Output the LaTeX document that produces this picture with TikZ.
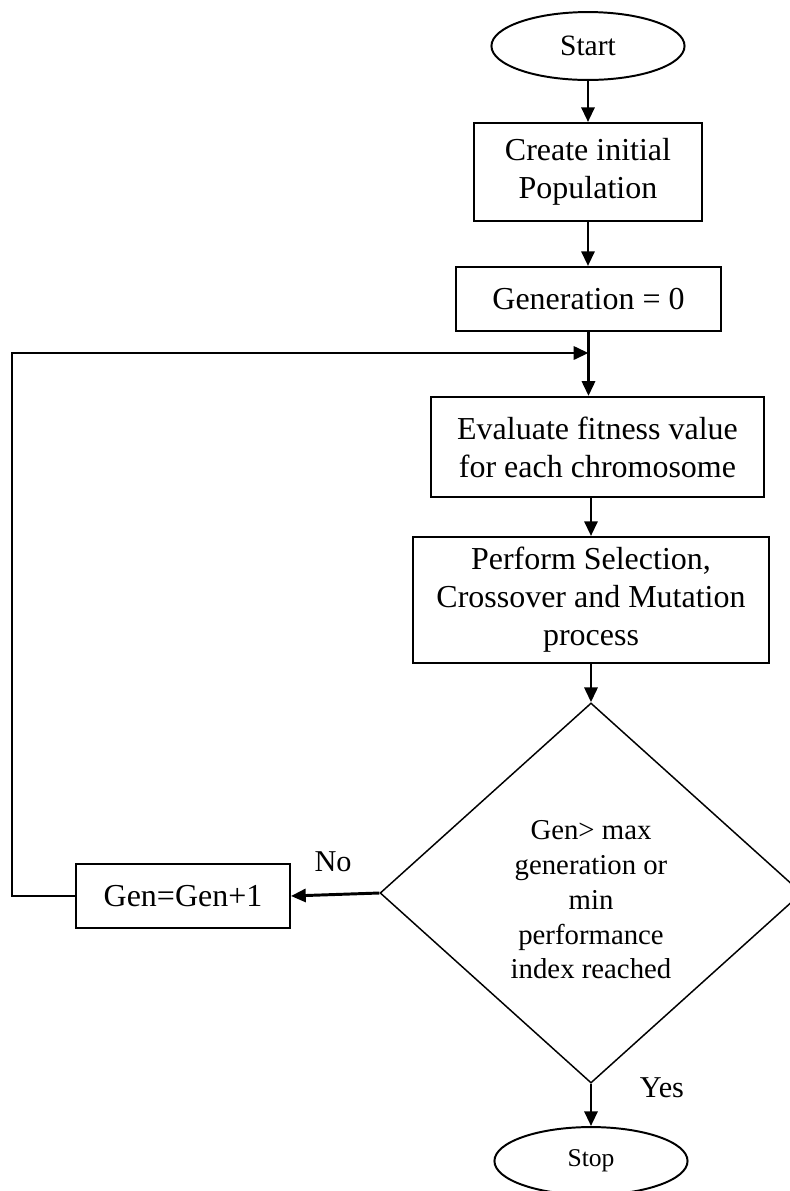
\documentclass[tikz,border=0pt]{standalone}
\usepackage{fontspec}
\setmainfont{Liberation Serif}
\usetikzlibrary{arrows.meta,positioning,shapes.geometric}

\begin{document}
\begin{tikzpicture}[x=0.4065pt, y=-0.4065pt,
        block/.style={rectangle, draw, line width=0.8pt, align=center, inner sep=0pt, font=\fontsize{13}{15.4}\selectfont},
        term/.style={ellipse, draw, line width=0.8pt, inner sep=0pt, minimum width=78.5pt, minimum height=27.6pt},
        decision/.style={diamond, draw, line width=0.6pt, inner sep=0pt, minimum width=171.5pt, minimum height=154.5pt, font=\fontsize{11.7}{14.2}\selectfont},
        arrow/.style={-{Triangle[length=6pt, width=5.3pt]}, line width=1.2pt},
        tag/.style={font=\fontsize{12.3}{14}\selectfont}
    ]
        \useasboundingbox (0,0) rectangle (789,1191);

        % Blocks
        \node[term, font=\fontsize{12}{14}\selectfont] (start) at (588,46) {Start};
        \node[block, minimum width=92.3pt, minimum height=39.8pt] (create) at (588,172) {Create initial\\Population};
        \node[block, minimum width=107.7pt, minimum height=26pt] (gen) at (588.5,299) {Generation = 0};
        \node[block, minimum width=135.4pt, minimum height=40.7pt] (eval) at (597.5,447) {Evaluate fitness value\\for each chromosome};
        \node[block, minimum width=144.7pt, minimum height=51.2pt] (perform) at (591,600) {Perform Selection,\\Crossover and Mutation\\process};
        \node[decision] (check) at (591,893) {\raisebox{-3.7pt}[\height][\depth]{\begin{tabular}{@{}c@{}}Gen> max\\generation or\\min\\performance\\index reached\end{tabular}}};
        \node[block, minimum width=87pt, minimum height=26pt] (incr) at (183,896) {Gen=Gen+1};
        \node[term, font=\fontsize{10.4}{12}\selectfont] (stop) at (591,1161) {Stop};

        % Labels
        \node[tag] (no) at (333,862) {No};
        \node[tag] (yes) at (662,1088) {Yes};

        % Arrows
        \draw[arrow] (start) -- (create);
        \draw[arrow] (create.south) -- (create.south |- gen.north);
        \draw[arrow] (gen.south) -- (gen.south |- eval.north);
        \draw[arrow] (perform.north |- eval.south) -- (perform.north);
        \draw[arrow] (perform) -- (check);
        \draw[arrow] (check) -- (stop);
        \draw[arrow] (check.west) -- (incr.east);

        % Loop back
        \coordinate (corner) at (12,353);
        \coordinate (join) at (gen.south |- corner);
        \draw[arrow] (incr.west) -| (corner) -- (join);
    \end{tikzpicture}
\end{document}
